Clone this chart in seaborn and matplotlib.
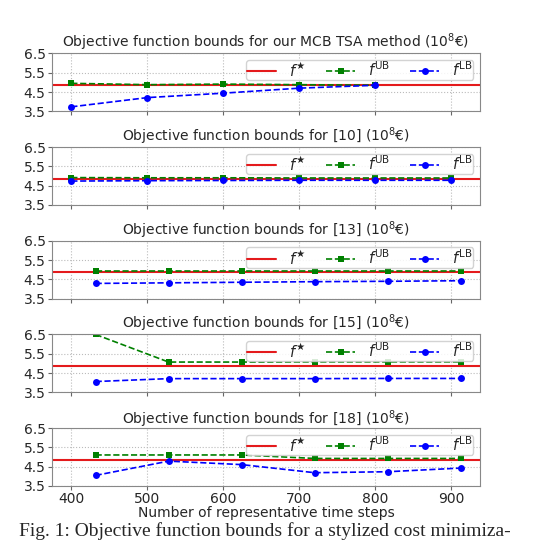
import seaborn as sns
import matplotlib.pyplot as plt
import numpy as np

# x positions (number of representative time steps)
x_mcb = [400, 500, 600, 700, 800]
x_ref10 = [400, 500, 600, 700, 800, 900]
x_shift = [432, 528, 624, 720, 816, 912]

f_star = 4.87

# upper / lower bounds
ub_mcb = [4.95, 4.88, 4.91, 4.88, 4.85]
lb_mcb = [3.73, 4.21, 4.44, 4.70, 4.85]

ub_10 = [4.92, 4.91, 4.91, 4.90, 4.90, 4.90]
lb_10 = [4.74, 4.76, 4.77, 4.78, 4.78, 4.78]

ub_13 = [4.92, 4.92, 4.92, 4.92, 4.92, 4.92]
lb_13 = [4.29, 4.32, 4.35, 4.38, 4.40, 4.43]

ub_15 = [6.50, 5.07, 5.07, 5.08, 5.08, 5.08]
lb_15 = [4.06, 4.21, 4.21, 4.21, 4.22, 4.22]

ub_18 = [5.11, 5.11, 5.11, 4.93, 4.93, 4.93]
lb_18 = [4.05, 4.79, 4.61, 4.19, 4.24, 4.43]

titles = ['Objective function bounds for our MCB TSA method ($10^8$€)',
          'Objective function bounds for [10] ($10^8$€)',
          'Objective function bounds for [13] ($10^8$€)',
          'Objective function bounds for [15] ($10^8$€)',
          'Objective function bounds for [18] ($10^8$€)']

panels = [(x_mcb, ub_mcb, lb_mcb),
          (x_ref10, ub_10, lb_10),
          (x_shift, ub_13, lb_13),
          (x_shift, ub_15, lb_15),
          (x_shift, ub_18, lb_18)]

sns.set_style('white')
plt.rcParams['font.family'] = ['DejaVu Sans']

fig, axes = plt.subplots(5, 1, figsize=(5.4, 5.4), dpi=100, sharex=True)
fig.subplots_adjust(left=0.096, right=0.889, top=0.901, bottom=0.1, hspace=0.62)

for ax, title, (xs, ub, lb) in zip(axes, titles, panels):
    ax.axhline(f_star, color='#e41a1c', linewidth=1.5, label=r'$f^{\bigstar}$')
    sns.lineplot(x=xs, y=ub, ax=ax, color='green', marker='s', markersize=5,
                 markeredgewidth=0, linestyle='--', linewidth=1.2, label=r'$f^{\mathrm{UB}}$')
    sns.lineplot(x=xs, y=lb, ax=ax, color='blue', marker='o', markersize=5,
                 markeredgewidth=0, linestyle='--', linewidth=1.2, label=r'$f^{\mathrm{LB}}$')
    ax.set_ylim(3.5, 6.5)
    ax.set_yticks([3.5, 4.5, 5.5, 6.5])
    ax.set_xticks([400, 500, 600, 700, 800, 900])
    ax.grid(True, linestyle=':', color='#bbbbbb', linewidth=0.8)
    ax.tick_params(labelsize=10, length=3, pad=1.5, color='#666666', direction='out',
                   bottom=True, left=True)
    for sp in ax.spines.values():
        sp.set_color('#888888')
    ax.set_title(title, fontsize=10, pad=3)
    ax.legend(loc='upper right', ncol=3, fontsize=10.5, frameon=True,
              borderpad=0.05, handletextpad=0.9, columnspacing=1.35,
              borderaxespad=0.45, framealpha=0.85)

axes[-1].set_xlabel('Number of representative time steps', fontsize=10, labelpad=0)

fig.text(0.035, 0.007, 'Fig. 1: Objective function bounds for a stylized cost minimiza-',
         fontsize=14, family='Liberation Serif', ha='left', va='baseline')

plt.savefig('out.png', dpi=100)
